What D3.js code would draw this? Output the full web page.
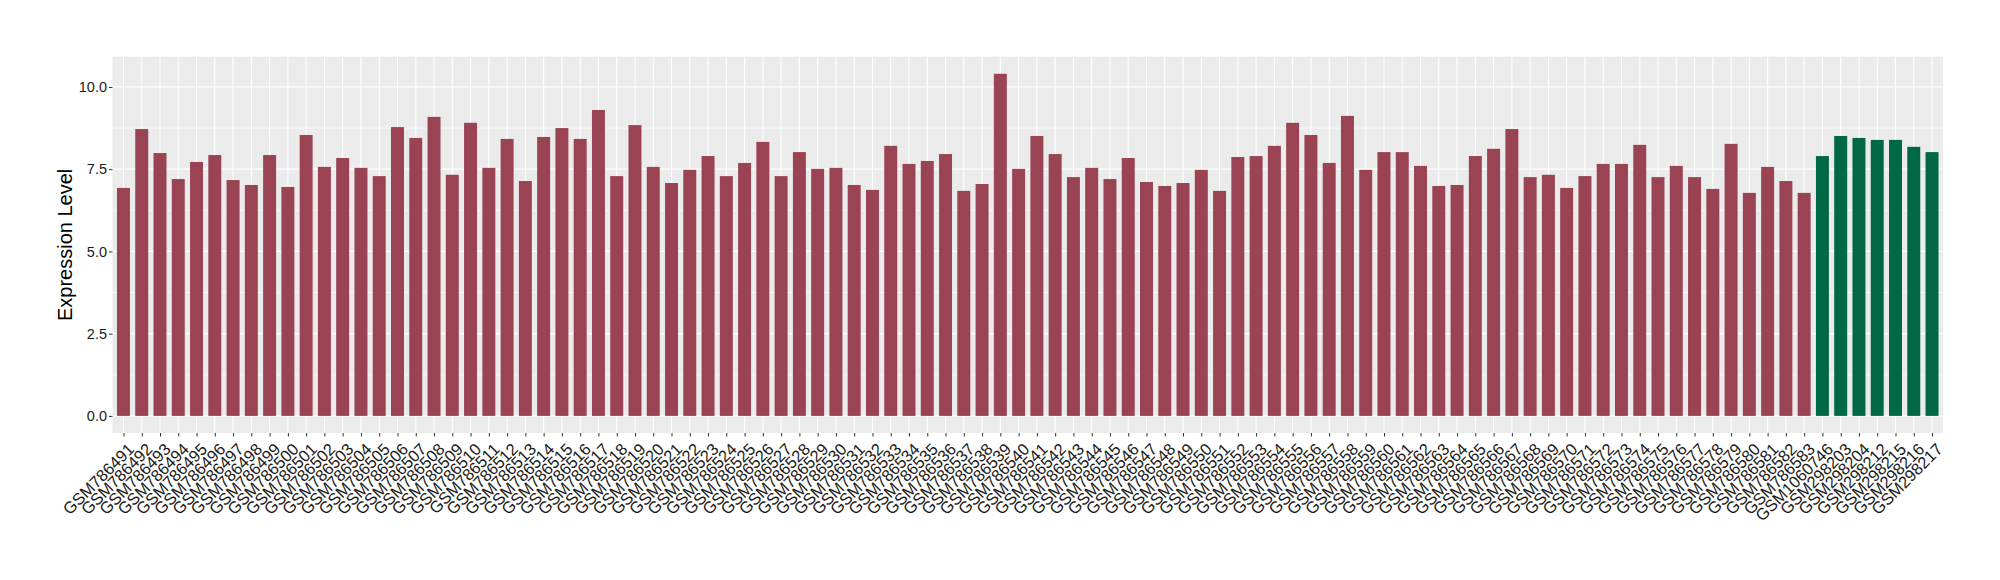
<!DOCTYPE html>
<html>
<head>
<meta charset="utf-8">
<script src="https://cdn.jsdelivr.net/npm/d3@7/dist/d3.min.js"></script>
<style>
  html, body { margin: 0; padding: 0; background: #ffffff; }
  svg { display: block; font-family: "Liberation Sans", Arial, Helvetica, sans-serif; }
</style>
</head>
<body>
<svg id="chart" width="2000" height="580"></svg>
<script>
const samplesA = ["GSM786491","GSM786492","GSM786493","GSM786494","GSM786495","GSM786496","GSM786497","GSM786498","GSM786499","GSM786500",
  "GSM786501","GSM786502","GSM786503","GSM786504","GSM786505","GSM786506","GSM786507","GSM786508","GSM786509","GSM786510",
  "GSM786511","GSM786512","GSM786513","GSM786514","GSM786515","GSM786516","GSM786517","GSM786518","GSM786519","GSM786520",
  "GSM786521","GSM786522","GSM786523","GSM786524","GSM786525","GSM786526","GSM786527","GSM786528","GSM786529","GSM786530",
  "GSM786531","GSM786532","GSM786533","GSM786534","GSM786535","GSM786536","GSM786537","GSM786538","GSM786539","GSM786540",
  "GSM786541","GSM786542","GSM786543","GSM786544","GSM786545","GSM786546","GSM786547","GSM786548","GSM786549","GSM786550",
  "GSM786551","GSM786552","GSM786553","GSM786554","GSM786555","GSM786556","GSM786557","GSM786558","GSM786559","GSM786560",
  "GSM786561","GSM786562","GSM786563","GSM786564","GSM786565","GSM786566","GSM786567","GSM786568","GSM786569","GSM786570",
  "GSM786571","GSM786572","GSM786573","GSM786574","GSM786575","GSM786576","GSM786577","GSM786578","GSM786579","GSM786580",
  "GSM786581","GSM786582","GSM786583"];
const valuesA = [6.93,8.72,7.99,7.20,7.72,7.93,7.17,7.02,7.93,6.96,
  8.54,7.57,7.84,7.54,7.29,8.78,8.45,9.09,7.33,8.91,
  7.54,8.42,7.14,8.48,8.75,8.42,9.30,7.29,8.84,7.57,
  7.08,7.48,7.90,7.29,7.69,8.33,7.29,8.02,7.51,7.54,
  7.02,6.87,8.21,7.66,7.75,7.96,6.84,7.05,10.40,7.51,
  8.51,7.96,7.26,7.54,7.20,7.84,7.11,6.99,7.08,7.48,
  6.84,7.87,7.90,8.21,8.91,8.54,7.69,9.12,7.48,8.02,
  8.02,7.60,6.99,7.02,7.90,8.12,8.72,7.26,7.33,6.93,
  7.29,7.66,7.66,8.24,7.26,7.60,7.26,6.90,8.27,6.78,
  7.57,7.14,6.78];
const samplesB = ["GSM1060746","GSM298203","GSM298204","GSM298212","GSM298215","GSM298216","GSM298217"];
const valuesB = [7.90,8.51,8.45,8.39,8.39,8.18,8.02];
const yTicks = [0, 2.5, 5, 7.5, 10];
const yMinor = [1.25, 3.75, 6.25, 8.75];
const yTitle = "Expression Level";
const colorA = "#9a4352";
const colorB = "#006844";

const data = samplesA.map((s, i) => ({name: s, value: valuesA[i], group: "A"}))
  .concat(samplesB.map((s, i) => ({name: s, value: valuesB[i], group: "B"})));

const svg = d3.select("#chart");
const margin = {left: 112.5, right: 2000 - 1943, top: 56.7, bottom: 580 - 433};
const W = 2000, H = 580;
const pw = W - margin.left - margin.right, ph = H - margin.top - margin.bottom;

const n = data.length;
const x = d3.scaleLinear().domain([0.4, n + 0.6]).range([margin.left, margin.left + pw]);
const maxV = d3.max(data, d => d.value);
const y = d3.scaleLinear().domain([-0.05 * maxV, maxV * 1.05]).range([margin.top + ph, margin.top]);

// panel
svg.append("rect").attr("x", margin.left).attr("y", margin.top).attr("width", pw).attr("height", ph).attr("fill", "#ebebeb");

const grid = svg.append("g");
grid.selectAll("line.minor").data(yMinor).join("line")
  .attr("x1", margin.left).attr("x2", margin.left + pw)
  .attr("y1", d => y(d)).attr("y2", d => y(d))
  .attr("stroke", "#ffffff").attr("stroke-width", 0.6);
grid.selectAll("line.major").data(yTicks).join("line")
  .attr("x1", margin.left).attr("x2", margin.left + pw)
  .attr("y1", d => y(d)).attr("y2", d => y(d))
  .attr("stroke", "#ffffff").attr("stroke-width", 1.2);
grid.selectAll("line.vx").data(data).join("line")
  .attr("x1", (d, i) => x(i + 1)).attr("x2", (d, i) => x(i + 1))
  .attr("y1", margin.top).attr("y2", margin.top + ph)
  .attr("stroke", "#ffffff").attr("stroke-width", 1.1);

// bars
const bw = 0.71 * (x(2) - x(1));
svg.append("g").selectAll("rect").data(data).join("rect")
  .attr("x", (d, i) => x(i + 1) - bw / 2)
  .attr("width", bw)
  .attr("y", d => y(d.value))
  .attr("height", d => y(0) - y(d.value))
  .attr("fill", d => d.group === "A" ? colorA : colorB);

// y axis
const yAxis = d3.axisLeft(y).tickValues(yTicks).tickFormat(d3.format(".1f")).tickSize(3.5).tickPadding(2);
const gy = svg.append("g").attr("transform", `translate(${margin.left},0)`).call(yAxis);
gy.select(".domain").remove();
gy.selectAll(".tick line").attr("stroke", "#333333").attr("stroke-width", 1);
gy.selectAll(".tick text").attr("font-size", 14.5).attr("fill", "#1a1a1a").attr("font-family", "Liberation Sans, Arial, sans-serif");

// x axis
const xAxis = d3.axisBottom(x).tickValues(d3.range(1, n + 1)).tickFormat(i => data[i - 1].name).tickSize(3.5).tickPadding(0);
const gx = svg.append("g").attr("transform", `translate(0,${margin.top + ph})`).call(xAxis);
gx.select(".domain").remove();
gx.selectAll(".tick line").attr("stroke", "#333333").attr("stroke-width", 1);
gx.selectAll(".tick text")
  .attr("font-size", 16.5).attr("fill", "#1a1a1a").attr("font-family", "Liberation Sans, Arial, sans-serif")
  .attr("text-anchor", "end")
  .attr("x", 0).attr("y", 0).attr("dy", "0.71em")
  .attr("transform", "translate(3,9) rotate(-45)");

// y title
svg.append("text")
  .attr("transform", `translate(65,${margin.top + ph / 2}) rotate(-90)`)
  .attr("text-anchor", "middle")
  .attr("dy", "0.35em")
  .attr("font-size", 20)
  .attr("fill", "#000000")
  .text(yTitle);
</script>
</body>
</html>
